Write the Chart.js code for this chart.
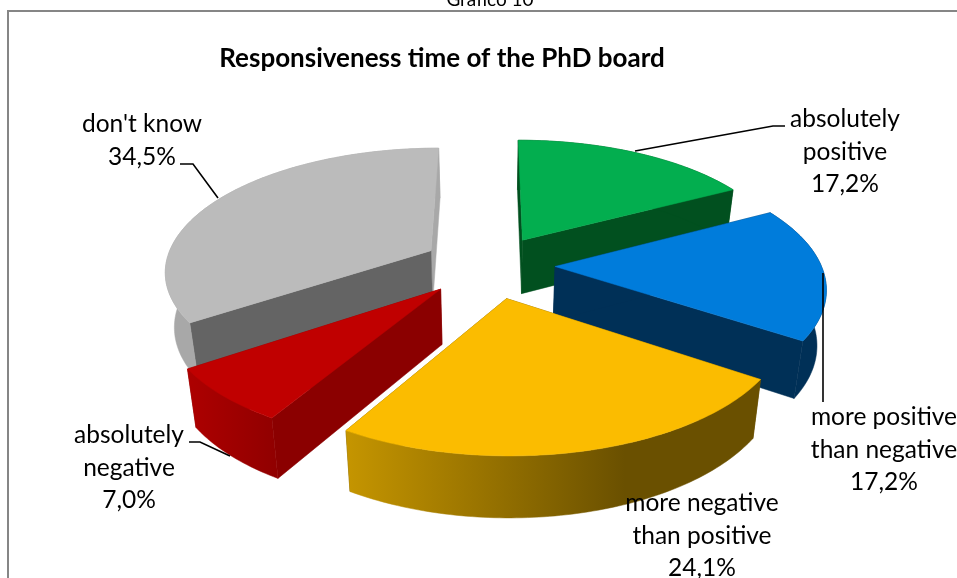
<!DOCTYPE html>
<html>
<head>
<meta charset="utf-8">
<title>Responsiveness time of the PhD board</title>
<script src="https://cdn.jsdelivr.net/npm/chart.js@4"></script>
<style>
  html, body { margin: 0; padding: 0; background: #fff; overflow: hidden; }
  canvas { display: block; }
</style>
</head>
<body>
<canvas id="pieChart" width="957" height="578"></canvas>
<script>
"use strict";

const chartTitle = "Responsiveness time of the PhD board";
const pageCaption = "Grafico 10";
const categories = [
  ["absolutely", "positive"],
  ["more positive", "than negative"],
  ["more negative", "than positive"],
  ["absolutely", "negative"],
  ["don't know"],
];
const shares = [17.2, 17.2, 24.1, 7.0, 34.5];

const explode = [65, 65, 72, 70, 68];
const topColors = ["#03AE4F", "#007CDB", "#FBBC00", "#C00000", "#BBBBBB"];
const startFaceColors = ["#01501F", "#003057", "#6A5000", "#8B0000", "#646464"];
const endFaceColors = ["#01501F", "#003057", "#6A5000", "#8B0000", "#A8A8A8"];
// null: the wall gets a gradient, see wallGradients
const wallColors = ["#01501F", "#003057", null, null, "#A8A8A8"];
const wallGradients = {
  2: { from: 343, to: 625, stops: ["#C69600", "#6A5000"] },
  3: { from: 192, to: 278, stops: ["#AC0000", "#900000"] },
};

// Where each label goes, and its leader line if it has one
const labelCenters = [[845, 119], [884, 417], [702, 503], [129, 435], [142, 124]];
const leaderLines = [
  [[635, 151], [773, 126], [785, 126]],
  [[823, 273], [823, 402]],
  null,
  [[189, 442], [200, 442], [230, 456]],
  [[180, 164], [193, 164], [218, 198]],
];

// Fake 3D: ground plane seen in perspective
const CENTER_X = 490;
const CENTER_Y = 265;
const PLANE_RADIUS = 266;
const SQUASH = 0.459;
const VIEW_DIST = 1754;
const THICKNESS = 56;
const BOTTOM_SHRINK = 0.0005;

function project(x, y, z) {
  const f = (VIEW_DIST / (VIEW_DIST - y)) * (1 - z * BOTTOM_SHRINK);
  return [CENTER_X + x * f, CENTER_Y + (SQUASH * y + z) * f];
}

function fillPoly(ctx, pts, color) {
  ctx.beginPath();
  pts.forEach((p, i) => (i ? ctx.lineTo(p[0], p[1]) : ctx.moveTo(p[0], p[1])));
  ctx.closePath();
  ctx.fillStyle = color;
  ctx.fill();
  ctx.strokeStyle = color;
  ctx.lineWidth = 0.5;
  ctx.stroke();
}

function wallFill(ctx, i) {
  if (wallColors[i]) return wallColors[i];
  const w = wallGradients[i];
  const g = ctx.createLinearGradient(w.from, 0, w.to, 0);
  g.addColorStop(0, w.stops[0]);
  g.addColorStop(1, w.stops[1]);
  return g;
}

function drawSlice(ctx, el, i) {
  const a0 = el.startAngle;
  const a1 = el.endAngle;
  const mid = (a0 + a1) / 2;
  const ox = Math.cos(mid) * el.options.offset;
  const oy = Math.sin(mid) * el.options.offset;

  const rim = [];
  const steps = Math.ceil(((a1 - a0) * 180) / Math.PI);
  for (let s = 0; s <= steps; s++) {
    const a = a0 + ((a1 - a0) * s) / steps;
    rim.push([ox + Math.cos(a) * PLANE_RADIUS, oy + Math.sin(a) * PLANE_RADIUS]);
  }
  const first = rim[0];
  const last = rim[rim.length - 1];

  const up = (p) => project(p[0], p[1], 0);
  const down = (p) => project(p[0], p[1], THICKNESS);
  const tip = [ox, oy];

  // the two cut faces
  fillPoly(ctx, [up(tip), up(last), down(last), down(tip)], endFaceColors[i]);
  fillPoly(ctx, [up(tip), up(first), down(first), down(tip)], startFaceColors[i]);
  // outer wall
  const wall = rim.map(up).concat(rim.slice().reverse().map(down));
  fillPoly(ctx, wall, wallFill(ctx, i));
  // top surface
  fillPoly(ctx, [up(tip)].concat(rim.map(up)), topColors[i]);
}

const slices3d = {
  id: "slices3d",
  // the library's own arcs are replaced with projected ones
  beforeDatasetsDraw(chart) {
    const ctx = chart.ctx;
    const arcs = chart.getDatasetMeta(0).data;
    const order = arcs
      .map((el, i) => ({ el, i, depth: Math.sin((el.startAngle + el.endAngle) / 2) }))
      .sort((a, b) => a.depth - b.depth);
    ctx.save();
    order.forEach((o) => drawSlice(ctx, o.el, o.i));
    ctx.restore();
    return false;
  },
  afterDraw(chart) {
    const ctx = chart.ctx;
    ctx.save();

    // frame, only the top and left edges are in the picture
    ctx.strokeStyle = "#868686";
    ctx.lineWidth = 2;
    ctx.beginPath();
    ctx.moveTo(8, 578);
    ctx.lineTo(8, 11);
    ctx.lineTo(957, 11);
    ctx.stroke();

    ctx.fillStyle = "#000";
    ctx.textAlign = "center";
    ctx.textBaseline = "middle";
    ctx.font = "19px Lato";
    ctx.fillText(pageCaption, 490, 0);

    ctx.strokeStyle = "#000";
    ctx.lineWidth = 1.6;
    leaderLines.forEach((line) => {
      if (!line) return;
      ctx.beginPath();
      line.forEach((p, i) => (i ? ctx.lineTo(p[0], p[1]) : ctx.moveTo(p[0], p[1])));
      ctx.stroke();
    });

    ctx.font = "24.5px Lato";
    categories.forEach((cat, i) => {
      const lines = cat.concat(shares[i].toFixed(1).replace(".", ",") + "%");
      lines.forEach((txt, n) => {
        ctx.fillText(txt, labelCenters[i][0], labelCenters[i][1] + n * 32.6);
      });
    });
    ctx.restore();
  },
};

new Chart(document.getElementById("pieChart"), {
  type: "pie",
  data: {
    labels: categories.map((c) => c.join(" ")),
    datasets: [
      {
        data: shares,
        backgroundColor: topColors,
        borderWidth: 0,
        offset: explode,
        hoverOffset: 0,
      },
    ],
  },
  options: {
    responsive: false,
    animation: false,
    events: [],
    layout: { padding: { right: 73 } },
    plugins: {
      legend: { display: false },
      tooltip: { enabled: false },
      title: {
        display: true,
        text: chartTitle,
        color: "#000",
        font: { family: "Lato", size: 26, weight: "bold" },
        padding: { top: 43, bottom: 0 },
      },
    },
  },
  plugins: [slices3d],
});
</script>
</body>
</html>
